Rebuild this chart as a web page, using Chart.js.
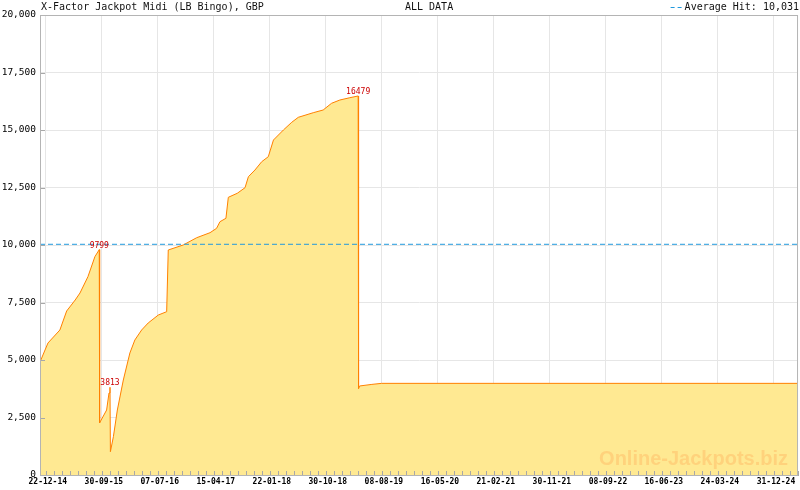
<!DOCTYPE html>
<html>
<head>
<meta charset="utf-8">
<title>X-Factor Jackpot Midi (LB Bingo)</title>
<script src="https://cdn.jsdelivr.net/npm/chart.js@4.4.1/dist/chart.umd.min.js"></script>
<style>
  html, body { margin: 0; padding: 0; background: #fff; }
  #wrap { width: 800px; height: 490px; }
</style>
</head>
<body>
<div id="wrap"><canvas id="jackpot-chart" width="800" height="490"></canvas></div>
<script>
// jackpot history
const dates = [
  "2014-11-23", "2015-01-02", "2015-03-03", "2015-04-06", "2015-05-19",
  "2015-06-12", "2015-07-22", "2015-08-26", "2015-09-17", "2015-09-19",
  "2015-10-24", "2015-11-05", "2015-11-10", "2015-11-12", "2015-11-27",
  "2015-12-17", "2016-01-16", "2016-02-18", "2016-03-14", "2016-04-17",
  "2016-05-20", "2016-07-10", "2016-08-21", "2016-08-29", "2016-11-12",
  "2017-01-19", "2017-03-27", "2017-04-29", "2017-05-16", "2017-06-15",
  "2017-06-27", "2017-08-11", "2017-09-19", "2017-10-06", "2017-11-08",
  "2017-12-12", "2018-01-14", "2018-02-09", "2018-03-31", "2018-05-12",
  "2018-06-14", "2018-08-28", "2018-10-17", "2018-11-28", "2019-01-09",
  "2019-02-28", "2019-04-11", "2019-04-13", "2019-04-18", "2019-06-19",
  "2019-08-07", "2025-05-01"
];
const values = [
  4913, 5739, 6304, 7130, 7609,
  7913, 8622, 9491, 9799, 2270,
  2826, 3565, 3813, 1013, 1665,
  2826, 4130, 5304, 5870, 6304,
  6609, 6956, 7100, 9783, 10000,
  10317, 10535, 10726, 11013, 11161,
  12074, 12248, 12491, 12970, 13261,
  13622, 13839, 14565, 15000, 15335,
  15552, 15752, 15870, 16161, 16304,
  16404, 16479, 3760, 3870, 3940,
  3985, 3985
];
// points that get a value label (indices into the arrays above)
const peakIdx = [8, 12, 46];
const averageHit = 10031;

const tickDates = [
  "2014-12-22", "2015-09-30", "2016-07-07", "2017-04-15", "2018-01-22",
  "2018-10-30", "2019-08-08", "2020-05-16", "2021-02-21", "2021-11-30",
  "2022-09-08", "2023-06-16", "2024-03-24", "2024-12-31"
];
const tickLabels = [
  "22-12-14", "30-09-15", "07-07-16", "15-04-17", "22-01-18",
  "30-10-18", "08-08-19", "16-05-20", "21-02-21", "30-11-21",
  "08-09-22", "16-06-23", "24-03-24", "31-12-24"
];
const yTicks = [0, 2500, 5000, 7500, 10000, 12500, 15000, 17500, 20000];

const titleLeft = "X-Factor Jackpot Midi (LB Bingo), GBP";
const titleMid = "ALL DATA";
const legendText = "Average Hit: 10,031";
const watermark = "Online-Jackpots.biz";

function toDay(s) {
  const p = s.split("-").map(Number);
  return Date.UTC(p[0], p[1] - 1, p[2]) / 86400000;
}

const xs = dates.map(toDay);
const majorDays = tickDates.map(toDay);
const xMin = xs[0];
const xMax = xs[xs.length - 1];

// 7 minor steps per labelled interval
function buildTickDays() {
  const out = [];
  const step0 = (majorDays[1] - majorDays[0]) / 7;
  for (let v = majorDays[0] - step0; v >= xMin; v -= step0) out.unshift(v);
  for (let i = 0; i < majorDays.length - 1; i++) {
    const st = (majorDays[i + 1] - majorDays[i]) / 7;
    for (let k = 0; k < 7; k++) out.push(majorDays[i] + k * st);
  }
  const last = majorDays[majorDays.length - 1];
  const stL = (last - majorDays[majorDays.length - 2]) / 7;
  for (let v = last; v <= xMax; v += stL) out.push(v);
  return out;
}
const tickDays = buildTickDays();

function majorIndex(v) {
  return majorDays.findIndex((d) => Math.abs(d - v) < 0.01);
}

const mono = "'DejaVu Sans Mono', monospace";

const framePlugin = {
  id: "frame",
  afterDatasetsDraw(chart) {
    const { ctx, chartArea: a, scales } = chart;
    ctx.save();
    // inside tick marks
    ctx.strokeStyle = "#a8a8a8";
    ctx.lineWidth = 1;
    ctx.beginPath();
    scales.x.ticks.forEach((t) => {
      const px = Math.round(scales.x.getPixelForValue(t.value)) + 0.5;
      ctx.moveTo(px, a.bottom);
      ctx.lineTo(px, a.bottom - 4);
    });
    yTicks.forEach((v) => {
      const py = Math.round(scales.y.getPixelForValue(v)) + 0.5;
      ctx.moveTo(a.left, py);
      ctx.lineTo(a.left + 5, py);
    });
    ctx.stroke();
    // frame
    ctx.strokeStyle = "#b4b4b4";
    ctx.strokeRect(a.left + 0.5, a.top + 0.5, a.right - a.left - 1, a.bottom - a.top);

    // peak labels
    ctx.fillStyle = "#cc0000";
    ctx.font = "8px " + mono;
    ctx.textAlign = "center";
    ctx.textBaseline = "middle";
    peakIdx.forEach((i) => {
      const px = scales.x.getPixelForValue(xs[i]);
      const py = scales.y.getPixelForValue(values[i]);
      ctx.fillText(String(values[i]), px, py - 4);
    });

    // watermark
    ctx.fillStyle = "#ffd27c";
    ctx.font = "bold 20px 'Liberation Sans', Arial, sans-serif";
    ctx.textAlign = "right";
    ctx.textBaseline = "alphabetic";
    ctx.fillText(watermark, 788, 465);

    // header texts
    ctx.fillStyle = "#111";
    ctx.font = "10px " + mono;
    ctx.textBaseline = "middle";
    ctx.textAlign = "left";
    ctx.fillText(titleLeft, 41, 7);
    ctx.fillText(titleMid, 405, 7);
    ctx.textAlign = "right";
    ctx.fillText(legendText, 799, 7);
    const w = ctx.measureText(legendText).width;
    ctx.strokeStyle = "#2299dd";
    ctx.beginPath();
    ctx.moveTo(799 - w - 14, 7.5);
    ctx.lineTo(799 - w - 10, 7.5);
    ctx.moveTo(799 - w - 7, 7.5);
    ctx.lineTo(799 - w - 3, 7.5);
    ctx.stroke();
    ctx.restore();
  },
};

new Chart(document.getElementById("jackpot-chart"), {
  type: "line",
  data: {
    datasets: [
      {
        label: "Jackpot",
        data: xs.map((x, i) => ({ x, y: values[i] })),
        borderColor: "#ff8000",
        backgroundColor: "rgb(255, 233, 146)",
        borderWidth: 1,
        pointRadius: 0,
        tension: 0,
        fill: "origin",
        order: 2,
      },
      {
        label: "Average Hit",
        data: [
          { x: xMin, y: averageHit },
          { x: xMax, y: averageHit },
        ],
        borderColor: "#2299dd",
        borderWidth: 1,
        borderDash: [5, 3],
        pointRadius: 0,
        fill: false,
        order: 1,
      },
    ],
  },
  options: {
    responsive: false,
    animation: false,
    devicePixelRatio: 1,
    layout: { padding: { top: 15, right: 1, left: 0, bottom: 0 } },
    plugins: {
      legend: { display: false },
      tooltip: { enabled: false },
    },
    scales: {
      x: {
        type: "linear",
        min: xMin,
        max: xMax,
        afterFit: (s) => { s.height = 15; },
        afterBuildTicks: (s) => {
          s.ticks = tickDays.map((v) => ({ value: v }));
        },
        ticks: {
          autoSkip: false,
          maxRotation: 0,
          padding: 2,
          labelOffset: 2,
          color: "#000",
          font: { family: mono, size: 8, weight: "bold" },
          callback: (v) => {
            const i = majorIndex(v);
            return i >= 0 ? tickLabels[i] : "";
          },
        },
        grid: {
          drawTicks: false,
          color: (c) => (c.tick && majorIndex(c.tick.value) >= 0 ? "#e6e6e6" : "rgba(0,0,0,0)"),
        },
        border: { color: "#a8a8a8" },
      },
      y: {
        min: 0,
        max: 20000,
        afterFit: (s) => { s.width = 40; },
        afterBuildTicks: (s) => {
          s.ticks = yTicks.map((v) => ({ value: v }));
        },
        ticks: {
          padding: 4,
          color: "#000",
          font: { family: mono, size: 9.5 },
          callback: (v) => Number(v).toLocaleString("en-US"),
        },
        grid: { drawTicks: false, color: "#e6e6e6" },
        border: { color: "#a8a8a8" },
      },
    },
  },
  plugins: [framePlugin],
});
</script>
</body>
</html>
